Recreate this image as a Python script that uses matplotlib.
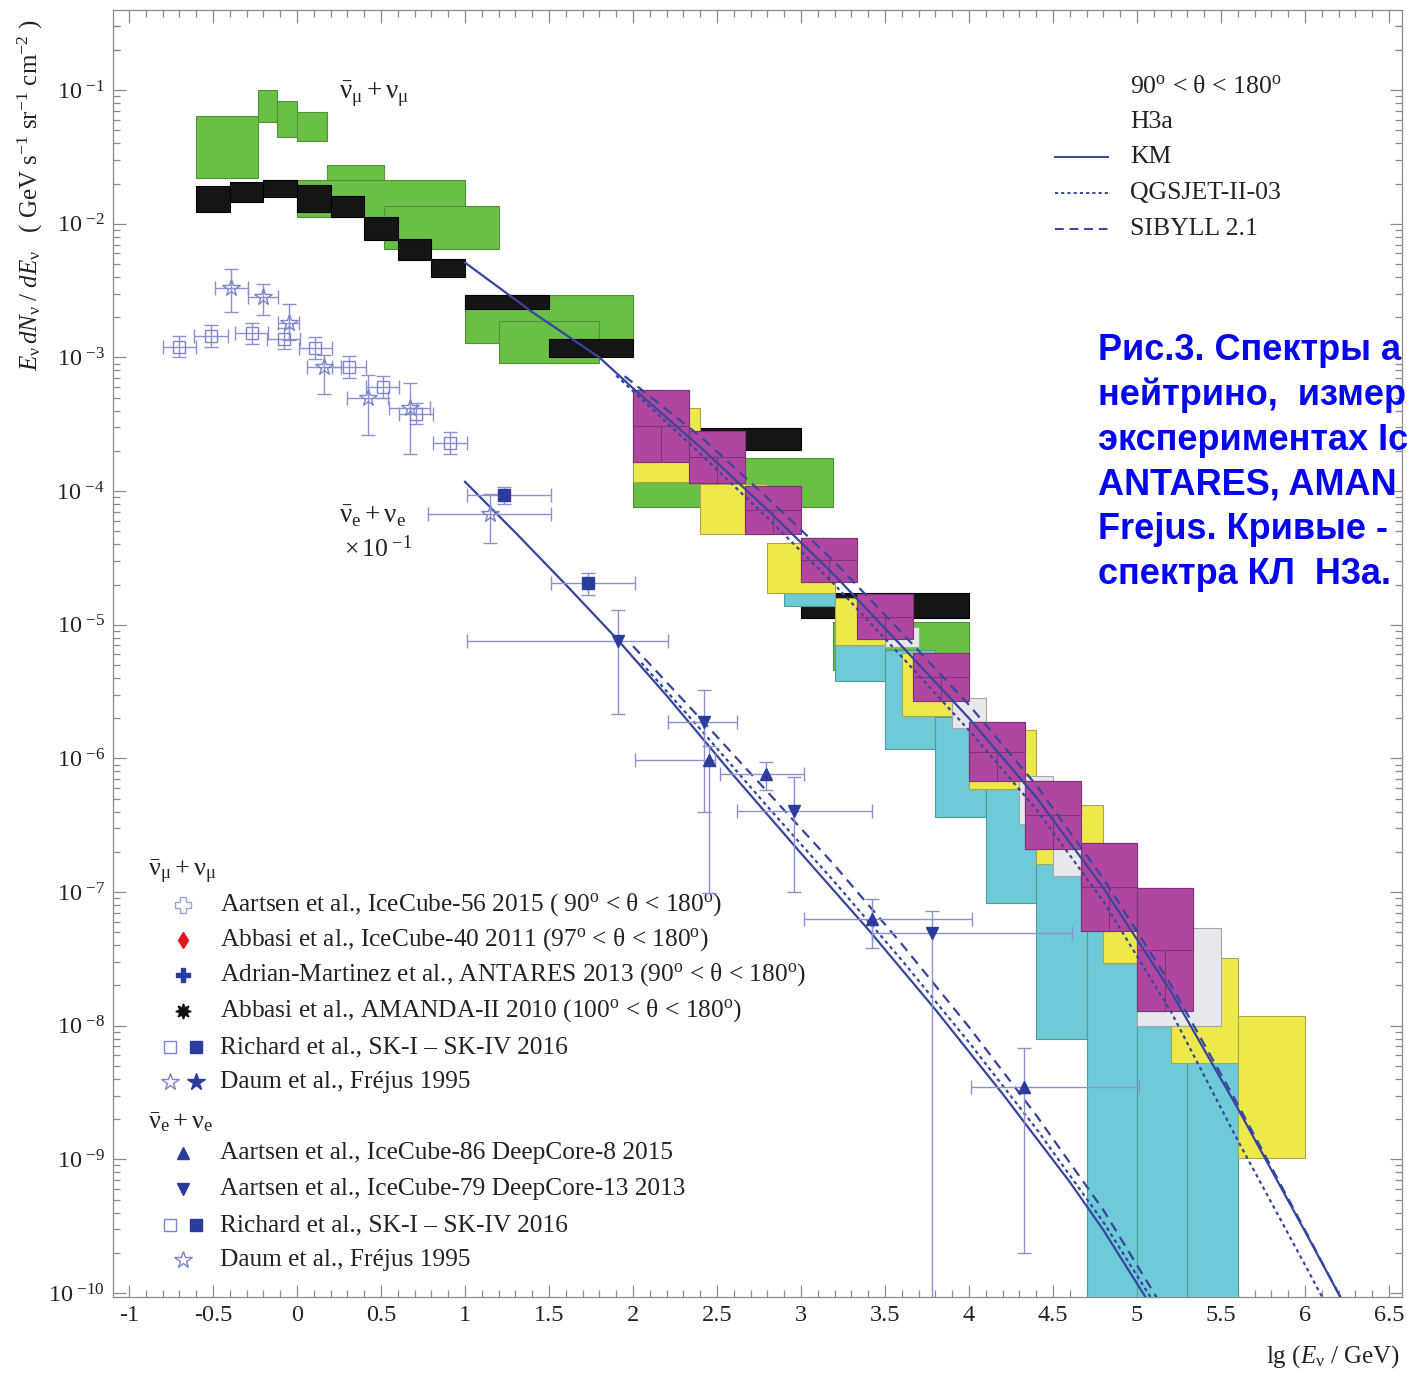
import numpy as np
import matplotlib
matplotlib.use('Agg')
import matplotlib.pyplot as plt
from matplotlib.ticker import FixedLocator, FixedFormatter, MultipleLocator, NullFormatter

plt.rcParams['font.family'] = ['Liberation Serif', 'DejaVu Serif']
plt.rcParams['mathtext.fontset'] = 'custom'
plt.rcParams['mathtext.rm'] = 'Liberation Serif'
plt.rcParams['mathtext.it'] = 'Liberation Serif:italic'
plt.rcParams['mathtext.bf'] = 'Liberation Serif:bold'
plt.rcParams['axes.unicode_minus'] = False

# ---------------- data (lg E [GeV], lg flux) ----------------
green_x0 = [-0.60, -0.23, -0.12, 0.00, 0.18, 0.00, 0.52, 1.00, 1.20, 2.00, 3.19]
green_x1 = [-0.23, -0.12, 0.00, 0.18, 0.52, 1.00, 1.20, 2.00, 1.80, 3.19, 4.00]
green_lo = [-1.66, -1.24, -1.35, -1.38, -1.85, -1.95, -2.19, -2.89, -3.04, -4.12, -5.34]
green_hi = [-1.19, -1.00, -1.08, -1.16, -1.56, -1.67, -1.87, -2.53, -2.73, -3.75, -4.98]

black_x0 = [-0.60, -0.40, -0.20, 0.00, 0.20, 0.40, 0.60, 0.80, 1.00, 1.50, 2.40, 3.00]
black_x1 = [-0.40, -0.20, 0.00, 0.20, 0.40, 0.60, 0.80, 1.00, 1.50, 2.00, 3.00, 4.00]
black_lo = [-1.91, -1.84, -1.80, -1.91, -1.95, -2.12, -2.27, -2.40, -2.64, -3.00, -3.69, -4.95]
black_hi = [-1.72, -1.69, -1.67, -1.71, -1.79, -1.95, -2.11, -2.26, -2.53, -2.86, -3.53, -4.76]

cyan_x0 = [2.9, 3.2, 3.5, 3.8, 4.1, 4.4, 4.7, 5.0, 5.3]
cyan_x1 = [3.2, 3.5, 3.8, 4.1, 4.4, 4.7, 5.0, 5.3, 5.6]
cyan_lo = [-4.86, -5.42, -5.93, -6.44, -7.08, -8.10, -10.5, -10.5, -10.5]
cyan_hi = [-4.76, -5.15, -5.19, -5.69, -6.23, -6.79, -7.29, -8.00, -8.28]

gray_x0 = [3.5, 3.9, 4.3, 4.5, 5.0]
gray_x1 = [3.7, 4.1, 4.5, 4.7, 5.5]
gray_lo = [-5.17, -5.77, -6.49, -6.88, -8.00]
gray_hi = [-5.02, -5.55, -6.13, -6.68, -7.27]

yellow_x0 = [2.0, 2.4, 2.8, 3.2, 3.6, 4.0, 4.4, 4.8, 5.2, 5.6]
yellow_x1 = [2.4, 2.8, 3.2, 3.6, 4.0, 4.4, 4.8, 5.2, 5.6, 6.0]
yellow_lo = [-3.93, -4.32, -4.76, -5.15, -5.68, -6.23, -6.79, -7.53, -8.28, -8.99]
yellow_hi = [-3.38, -3.95, -4.39, -4.80, -5.21, -5.79, -6.35, -7.25, -7.49, -7.93]

magenta_x0 = [2.000, 2.333, 2.667, 3.000, 3.333, 3.667, 4.000, 4.333, 4.667, 5.000]
magenta_x1 = [2.333, 2.667, 3.000, 3.333, 3.667, 4.000, 4.333, 4.667, 5.000, 5.333]
magenta_lo = [-3.78, -3.94, -4.32, -4.68, -5.11, -5.57, -6.17, -6.68, -7.29, -7.89]
magenta_hi = [-3.24, -3.55, -3.96, -4.35, -4.77, -5.21, -5.73, -6.17, -6.63, -6.97]

# model curves (H3a): numu+anti-numu
km_mu_x = [1.0, 1.4, 1.8, 2.0, 2.4, 2.8, 3.2, 3.6, 4.0, 4.4, 4.8, 5.2, 5.6, 6.0, 6.21]
km_mu_y = [-2.29, -2.66, -3.00, -3.23, -3.67, -4.14, -4.63, -5.16, -5.70, -6.29, -6.97, -7.74, -8.62, -9.54, -10.03]
sib_mu_x = [1.95, 2.4, 2.8, 3.2, 3.6, 4.0, 4.4, 4.8, 5.2, 5.6, 6.0, 6.21]
sib_mu_y = [-3.14, -3.59, -4.05, -4.53, -5.06, -5.60, -6.20, -6.90, -7.69, -8.59, -9.53, -10.03]
qgs_mu_x = [1.90, 2.4, 2.8, 3.2, 3.6, 4.0, 4.4, 4.8, 5.2, 5.6, 6.0, 6.11]
qgs_mu_y = [-3.135, -3.72, -4.20, -4.70, -5.24, -5.79, -6.38, -7.07, -7.89, -8.86, -9.79, -10.05]
# nue+anti-nue (x 0.1)
km_e_x = [1.0, 1.3, 1.6, 1.9, 2.2, 2.6, 3.0, 3.4, 3.8, 4.2, 4.6, 4.8, 5.06]
km_e_y = [-3.93, -4.31, -4.70, -5.10, -5.53, -6.13, -6.71, -7.28, -7.88, -8.51, -9.17, -9.53, -10.05]
sib_e_x = [2.0, 2.4, 2.8, 3.2, 3.6, 4.0, 4.4, 4.8, 5.125]
sib_e_y = [-5.16, -5.70, -6.25, -6.80, -7.39, -8.01, -8.67, -9.38, -10.05]
qgs_e_x = [2.05, 2.4, 2.8, 3.2, 3.6, 4.0, 4.4, 4.8, 5.09]
qgs_e_y = [-5.285, -5.78, -6.36, -6.925, -7.51, -8.125, -8.77, -9.47, -10.05]

# Super-K numu (open squares)
sk_mu_x = [-0.70, -0.51, -0.27, -0.08, 0.11, 0.31, 0.51, 0.71, 0.91]
sk_mu_dx = [0.10, 0.10, 0.10, 0.10, 0.10, 0.10, 0.10, 0.10, 0.10]
sk_mu_y = [-2.92, -2.84, -2.82, -2.86, -2.93, -3.07, -3.22, -3.42, -3.64]
sk_mu_dy = [0.08, 0.08, 0.08, 0.08, 0.08, 0.08, 0.08, 0.08, 0.08]
# Frejus numu (open stars)
fr_mu_x = [-0.39, -0.20, -0.05, 0.16, 0.42, 0.67]
fr_mu_dx = [0.10, 0.09, 0.06, 0.10, 0.12, 0.12]
fr_mu_y = [-2.48, -2.55, -2.74, -3.07, -3.30, -3.38]
fr_mu_up = [0.14, 0.10, 0.14, 0.09, 0.17, 0.19]
fr_mu_dn = [0.18, 0.13, 0.13, 0.20, 0.28, 0.34]
# nue (x 0.1)
sk_e_x = [1.23, 1.73]
sk_e_xlo = [1.01, 1.51]
sk_e_xhi = [1.51, 2.01]
sk_e_y = [-4.03, -4.69]
sk_e_up = [0.06, 0.075]
sk_e_dn = [0.07, 0.09]
fr_e_x = [1.15]
fr_e_xlo = [0.78]
fr_e_xhi = [1.51]
fr_e_y = [-4.17]
fr_e_up = [0.15]
fr_e_dn = [0.22]
ic86_x = [2.45, 2.79, 3.42, 4.33]
ic86_xlo = [2.01, 2.52, 3.02, 4.01]
ic86_xhi = [2.49, 3.02, 4.02, 5.01]
ic86_y = [-6.01, -6.12, -7.20, -8.46]
ic86_up = [0.10, 0.09, 0.15, 0.29]
ic86_dn = [1.00, 0.12, 0.22, 1.24]
ic79_x = [1.91, 2.42, 2.96, 3.78]
ic79_xlo = [1.01, 2.21, 2.62, 3.42]
ic79_xhi = [2.21, 2.62, 3.42, 4.61]
ic79_y = [-5.12, -5.73, -6.39, -7.31]
ic79_up = [0.23, 0.24, 0.25, 0.17]
ic79_dn = [0.55, 0.67, 0.61, 3.00]

x_ticks = [-1, -0.5, 0, 0.5, 1, 1.5, 2, 2.5, 3, 3.5, 4, 4.5, 5, 5.5, 6, 6.5]
x_tick_labels = ['-1', '-0.5', '0', '0.5', '1', '1.5', '2', '2.5', '3', '3.5', '4', '4.5', '5', '5.5', '6', '6.5']
y_decades = [-1, -2, -3, -4, -5, -6, -7, -8, -9, -10]

# ---------------- figure ----------------
W, H = 1407, 1374
fig = plt.figure(figsize=(W / 100, H / 100), dpi=100)
ax = fig.add_axes([113 / W, 77 / H, 1289 / W, 1287 / H])
ax.set_yscale('log')
ax.set_xlim(-1.095, 6.577)
ax.set_ylim(10 ** -10.03, 10 ** -0.40)


def boxes(x0, x1, lo, hi, face, edge, z, lw=0.8):
    x0 = np.asarray(x0, float); x1 = np.asarray(x1, float)
    lo = np.asarray(lo, float); hi = np.asarray(hi, float)
    ax.bar(x0, height=10 ** hi - 10 ** lo, width=x1 - x0, bottom=10 ** lo, align='edge',
           color=face, edgecolor=edge, linewidth=lw, zorder=z)


GREEN, BLACK, CYAN, GRAY, YELLOW, MAGENTA = '#6abf45', '#151515', '#6dcad6', '#e7e8eb', '#eee94a', '#b0469f'
boxes(green_x0, green_x1, green_lo, green_hi, GREEN, '#4f9338', 1)
boxes(black_x0, black_x1, black_lo, black_hi, BLACK, '#000000', 2)
boxes(cyan_x0, cyan_x1, cyan_lo, cyan_hi, CYAN, '#4d9aa3', 3)
boxes(yellow_x0, yellow_x1, yellow_lo, yellow_hi, YELLOW, '#aaa54a', 4)
boxes(gray_x0, gray_x1, gray_lo, gray_hi, GRAY, '#a3a7ad', 5)
mx0 = np.array(magenta_x0); mx1 = np.array(magenta_x1)
mlo = np.array(magenta_lo); mhi = np.array(magenta_hi)
boxes(mx0, mx1, mlo, mhi, MAGENTA, '#7a3675', 6)
boxes(mx0, (mx0 + mx1) / 2, mlo, mhi, MAGENTA, '#7a3675', 6)
boxes(mx0, mx1, (mlo + mhi) / 2, mhi, MAGENTA, '#7a3675', 6)

LC = '#36469e'
for xs, ys in [(km_mu_x, km_mu_y), (km_e_x, km_e_y)]:
    ax.plot(xs, 10 ** np.array(ys), color=LC, lw=1.6, zorder=8)
for xs, ys in [(qgs_mu_x, qgs_mu_y), (qgs_e_x, qgs_e_y)]:
    ax.plot(xs, 10 ** np.array(ys), color=LC, lw=1.6, ls=(0, (1.6, 1.6)), zorder=8)
for xs, ys in [(sib_mu_x, sib_mu_y), (sib_e_x, sib_e_y)]:
    ax.plot(xs, 10 ** np.array(ys), color=LC, lw=1.6, ls=(0, (4.5, 3)), zorder=8)

ECOL = '#8a90d0'
MCOL = '#2b3c9c'


def points(x, xlo, xhi, y, up, dn, marker, mfc, mec, ms, mew=1.0):
    x = np.asarray(x, float); y = np.asarray(y, float)
    up = np.asarray(up, float); dn = np.asarray(dn, float)
    yv = 10 ** y
    yerr = [yv - 10 ** (y - dn), 10 ** (y + up) - yv]
    xerr = [x - np.asarray(xlo, float), np.asarray(xhi, float) - x]
    ax.errorbar(x, yv, xerr=xerr, yerr=yerr, fmt=marker, mfc=mfc, mec=mec, ms=ms, mew=mew,
                ecolor=ECOL, elinewidth=1.0, capsize=5, capthick=1.0, zorder=9)


smx = np.array(sk_mu_x); sdx = np.array(sk_mu_dx)
points(smx, smx - sdx, smx + sdx, sk_mu_y, sk_mu_dy, sk_mu_dy, 's', 'none', '#7e84c8', 9)
fmx = np.array(fr_mu_x); fdx = np.array(fr_mu_dx)
points(fmx, fmx - fdx, fmx + fdx, fr_mu_y, fr_mu_up, fr_mu_dn, '*', 'none', '#7e84c8', 13)
points(sk_e_x, sk_e_xlo, sk_e_xhi, sk_e_y, sk_e_up, sk_e_dn, 's', MCOL, MCOL, 8)
points(fr_e_x, fr_e_xlo, fr_e_xhi, fr_e_y, fr_e_up, fr_e_dn, '*', 'none', '#7e84c8', 13)
points(ic86_x, ic86_xlo, ic86_xhi, ic86_y, ic86_up, ic86_dn, '^', MCOL, MCOL, 8)
points(ic79_x, ic79_xlo, ic79_xhi, ic79_y, ic79_up, ic79_dn, 'v', MCOL, MCOL, 8)

# ---------------- axes styling ----------------
SP = '#8a8a8a'
for s in ax.spines.values():
    s.set_color(SP); s.set_linewidth(0.9)
ax.xaxis.set_major_locator(FixedLocator(x_ticks))
ax.xaxis.set_major_formatter(FixedFormatter(x_tick_labels))
ax.xaxis.set_minor_locator(MultipleLocator(0.1))
ax.yaxis.set_major_locator(FixedLocator([10.0 ** d for d in y_decades]))
ax.yaxis.set_major_formatter(FixedFormatter(
    [r'$10^{\ \mathregular{%d}}$' % d for d in y_decades]))
minor_y = [m * 10.0 ** d for d in y_decades[:-1] + [] for m in range(2, 10)]
minor_y += [m * 10.0 ** -10 for m in range(2, 10)] + [2 * 10.0 ** -1, 3 * 10.0 ** -1]
ax.yaxis.set_minor_locator(FixedLocator(minor_y))
ax.yaxis.set_minor_formatter(NullFormatter())
ax.tick_params(which='both', direction='in', top=True, right=True, color=SP, width=0.9,
               labelsize=17.5, labelcolor='#222222')
ax.tick_params(which='major', length=9)
ax.tick_params(which='minor', length=5)
ax.tick_params(axis='x', pad=6)
ax.tick_params(axis='y', pad=6)

TXT = '#222222'
fig.text(30 / W, 1 - 195 / H,
         r'$E_{\mathrm{\nu}}\,dN_{\mathrm{\nu}}\ /\ dE_{\mathrm{\nu}}$   ( GeV s$^{-1}$ sr$^{-1}$ cm$^{-2}$ )',
         rotation=90, ha='center', va='center', fontsize=18, color=TXT)
fig.text(1400 / W, 1 - 1357 / H, r'lg ($E_{\mathrm{\nu}}$ / GeV)', ha='right', va='center',
         fontsize=18, color=TXT)

ax.text(0.25, 10 ** -1.03, r'$\bar{\mathrm{\nu}}_{\mathrm{\mu}}+\mathrm{\nu}_{\mathrm{\mu}}$',
        fontsize=19.5, color=TXT, va='center', ha='left', zorder=10)
ax.text(0.25, 10 ** -4.19, r'$\bar{\mathrm{\nu}}_{\mathrm{e}}+\mathrm{\nu}_{\mathrm{e}}$',
        fontsize=19.5, color=TXT, va='center', ha='left', zorder=10)
ax.text(0.28, 10 ** -4.43, r'$\times\,10^{\ \mathregular{-1}}$',
        fontsize=18.5, color=TXT, va='center', ha='left', zorder=10)


def axf(px, py):
    return (px - 113) / 1289, (1297 - py) / 1287


deg = r'$^{\mathrm{o}}$'
for txt, py in [('90' + deg + ' < θ < 180' + deg, 87), ('H3a', 122), ('KM', 157),
                ('QGSJET-II-03', 193), ('SIBYLL 2.1', 229)]:
    fx, fy = axf(1130, py)
    ax.text(fx, fy, txt, transform=ax.transAxes, fontsize=18.5, color=TXT, va='center', ha='left')
for py, ls in [(157, '-'), (193, (0, (1.6, 1.6))), (229, (0, (4.5, 3)))]:
    a, fy = axf(1055, py)
    b, _ = axf(1108, py)
    ax.plot([a, b], [fy, fy], transform=ax.transAxes, color=LC, lw=1.4, ls=ls, clip_on=False)

TX = axf(220, 0)[0]
MX1 = axf(183, 0)[0]
MXa = axf(170, 0)[0]
MXb = axf(196, 0)[0]
fx, fy = axf(148, 872)
ax.text(fx, fy, r'$\bar{\mathrm{\nu}}_{\mathrm{\mu}}+\mathrm{\nu}_{\mathrm{\mu}}$', transform=ax.transAxes,
        fontsize=19, color=TXT, va='center', ha='left')
fx, fy = axf(148, 1122)
ax.text(fx, fy, r'$\bar{\mathrm{\nu}}_{\mathrm{e}}+\mathrm{\nu}_{\mathrm{e}}$', transform=ax.transAxes,
        fontsize=19, color=TXT, va='center', ha='left')

legend_rows = [
    (905, 'Aartsen et al., IceCube-56 2015 ( 90' + deg + ' < θ < 180' + deg + ')',
     [(MX1, 'P', 'none', '#9aa0d8', 11)]),
    (940, 'Abbasi et al., IceCube-40 2011 (97' + deg + ' < θ < 180' + deg + ')',
     [(MX1, 'd', '#e8141c', '#e8141c', 8)]),
    (975, 'Adrian-Martinez et al., ANTARES 2013 (90' + deg + ' < θ < 180' + deg + ')',
     [(MX1, 'P', MCOL, MCOL, 10)]),
    (1011, 'Abbasi et al., AMANDA-II 2010 (100' + deg + ' < θ < 180' + deg + ')',
     [(MX1, (8, 1, 0), '#111111', '#111111', 11)]),
    (1047, 'Richard et al., SK-I – SK-IV 2016',
     [(MXa, 's', 'none', '#7e84c8', 9), (MXb, 's', MCOL, MCOL, 9)]),
    (1082, 'Daum et al., Fréjus 1995',
     [(MXa, '*', 'none', '#7e84c8', 13), (MXb, '*', MCOL, MCOL, 13)]),
    (1153, 'Aartsen et al., IceCube-86 DeepCore-8 2015',
     [(MX1, '^', MCOL, MCOL, 9)]),
    (1189, 'Aartsen et al., IceCube-79 DeepCore-13 2013',
     [(MX1, 'v', MCOL, MCOL, 9)]),
    (1225, 'Richard et al., SK-I – SK-IV 2016',
     [(MXa, 's', 'none', '#7e84c8', 9), (MXb, 's', MCOL, MCOL, 9)]),
    (1260, 'Daum et al., Fréjus 1995',
     [(MX1, '*', 'none', '#7e84c8', 13)]),
]
for py, txt, mks in legend_rows:
    fy = axf(0, py)[1]
    ax.text(TX, fy, txt, transform=ax.transAxes, fontsize=18.3, color=TXT, va='center', ha='left')
    for mxp, mk, mfc, mec, ms in mks:
        ax.plot([mxp], [fy], marker=mk, mfc=mfc, mec=mec, ms=ms, mew=1.0, ls='none',
                transform=ax.transAxes, clip_on=False, zorder=10)

# caption (the reference shows only the left part of it)
caption_lines = ['Рис.3. Спектры а', 'нейтрино,  измер', 'экспериментах Ic',
                 'ANTARES, AMAN', 'Frejus. Кривые -', 'спектра КЛ  Н3а.']
for i, line in enumerate(caption_lines):
    yc = 351 + i * 44.6
    fig.text(1098 / W, 1 - yc / H, line, fontsize=26, fontweight='bold', color='#0505f0',
             family=['Liberation Sans', 'DejaVu Sans'], ha='left', va='center')

fig.savefig('out.png', dpi=100)
